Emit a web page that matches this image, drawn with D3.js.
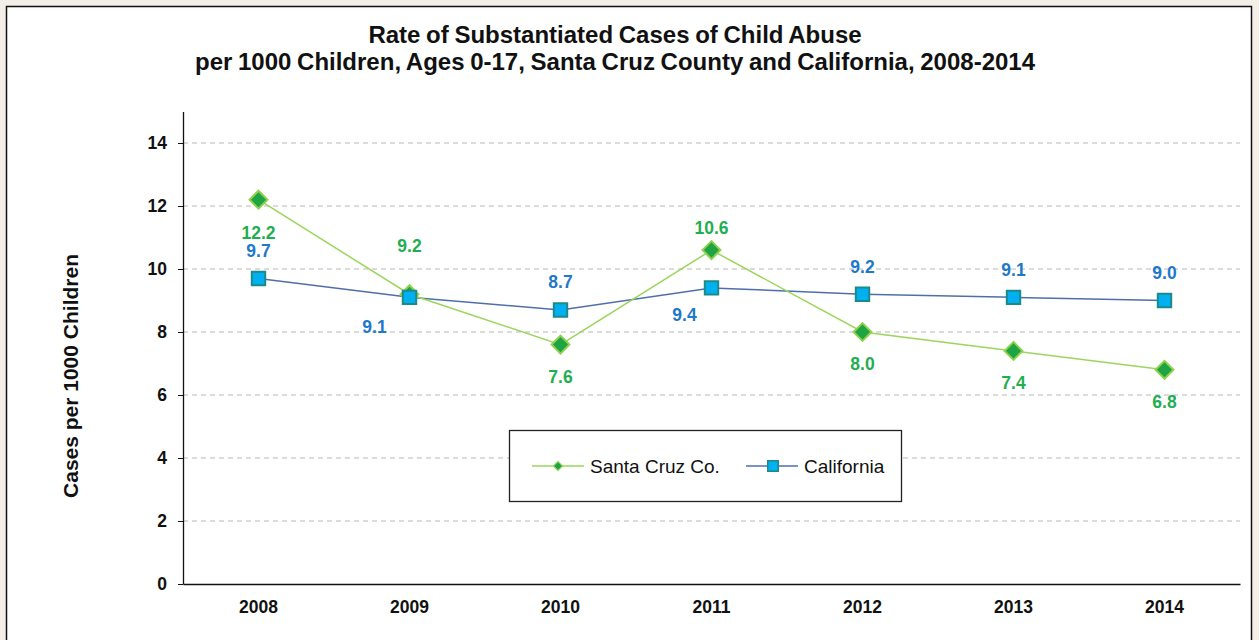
<!DOCTYPE html>
<html>
<head>
<meta charset="utf-8">
<script src="https://cdn.jsdelivr.net/npm/d3@7"></script>
<style>
  body { margin: 0; background: #f4eee9; }
  svg { display: block; font-family: "Liberation Sans", Arial, sans-serif; }
</style>
</head>
<body>
<div id="chart"></div>
<script>
// data
var years = ["2008", "2009", "2010", "2011", "2012", "2013", "2014"];
var santaCruz = [12.2, 9.2, 7.6, 10.6, 8.0, 7.4, 6.8];
var california = [9.7, 9.1, 8.7, 9.4, 9.2, 9.1, 9.0];
var yTicks = [0, 2, 4, 6, 8, 10, 12, 14];

// label offsets (dx, dy) of label centre relative to each point
var scLabelPos = [[0, 33], [0, -49], [0, 32], [0, -22], [0, 32], [0, 32], [0, 32]];
var caLabelPos = [[0, -28], [-35, 29], [0, -28], [-27, 27], [0, -28], [0, -28], [0, -28]];

var W = 1259, H = 640;
var margin = {left: 183, right: 19, top: 111.5, bottom: 56};

var svg = d3.select("#chart")
  .append("svg")
  .attr("width", W)
  .attr("height", H);

// white panel
svg.append("rect")
  .attr("x", 6.5)
  .attr("y", 6.5)
  .attr("width", 1245)
  .attr("height", 650)
  .style("fill", "white")
  .style("stroke", "#111")
  .style("stroke-width", 1.5);

var x = d3.scaleBand()
  .domain(years)
  .range([margin.left, W - margin.right]);

var y = d3.scaleLinear()
  .domain([0, 15])
  .range([H - margin.bottom, margin.top]);

// gridlines
svg.append("g")
  .selectAll("line")
  .data(yTicks.filter(d => d > 0))
  .enter().append("line")
  .attr("x1", margin.left)
  .attr("x2", W - margin.right)
  .attr("y1", d => y(d))
  .attr("y2", d => y(d))
  .style("stroke", "#b8b8b8")
  .style("stroke-width", 1)
  .style("stroke-dasharray", "5,4");

// y axis
var yAxis = svg.append("g")
  .attr("transform", "translate(" + margin.left + ",0)")
  .call(d3.axisLeft(y).tickValues(yTicks).tickSize(5).tickPadding(11).tickSizeOuter(0));
yAxis.select(".domain").style("stroke", "#111").style("stroke-width", 1.3);
yAxis.selectAll(".tick line").style("stroke", "#111");
yAxis.selectAll("text")
  .style("font-size", "17.5px")
  .style("font-weight", "bold")
  .style("fill", "#111");

// x axis
var xAxis = svg.append("g")
  .attr("transform", "translate(0," + y(0) + ")")
  .call(d3.axisBottom(x).tickSize(0).tickPadding(17).tickSizeOuter(0));
xAxis.select(".domain").style("stroke", "#111").style("stroke-width", 1.3);
xAxis.selectAll("text")
  .style("font-size", "17.5px")
  .style("font-weight", "bold")
  .style("fill", "#111");

// title
var title = svg.append("text")
  .attr("text-anchor", "middle")
  .style("font-size", "24px")
  .style("font-weight", "bold")
  .style("word-spacing", "-1px")
  .style("fill", "#111");
title.append("tspan").attr("x", 615).attr("y", 43).text("Rate of Substantiated Cases of Child Abuse");
title.append("tspan").attr("x", 615).attr("y", 70).text("per 1000 Children, Ages 0-17, Santa Cruz County and California, 2008-2014");

// y axis title
svg.append("text")
  .attr("transform", "translate(78," + 376 + ") rotate(-90)")
  .attr("text-anchor", "middle")
  .style("font-size", "21px")
  .style("font-weight", "bold")
  .style("fill", "#111")
  .text("Cases per 1000 Children");

var cx = (d, i) => x(years[i]) + x.bandwidth() / 2;

var line = d3.line()
  .x(cx)
  .y(d => y(d));

// series lines
svg.append("path")
  .datum(california)
  .attr("d", line)
  .style("fill", "none")
  .style("stroke", "#4f6fa8")
  .style("stroke-width", 1.5);

svg.append("path")
  .datum(santaCruz)
  .attr("d", line)
  .style("fill", "none")
  .style("stroke", "#9ad65a")
  .style("stroke-width", 1.5);

var diamond = d3.symbol().type(d3.symbolSquare).size(160);
var square = d3.symbol().type(d3.symbolSquare).size(180);

// santa cruz markers
svg.append("g")
  .selectAll("path")
  .data(santaCruz)
  .enter().append("path")
  .attr("d", diamond)
  .attr("transform", (d, i) => "translate(" + cx(d, i) + "," + y(d) + ") rotate(45)")
  .style("fill", "#1ea443")
  .style("stroke", "#8fd14f")
  .style("stroke-width", 2);

// california markers
svg.append("g")
  .selectAll("path")
  .data(california)
  .enter().append("path")
  .attr("d", square)
  .attr("transform", (d, i) => "translate(" + cx(d, i) + "," + y(d) + ")")
  .style("fill", "#00b0f0")
  .style("stroke", "#1d8a8a")
  .style("stroke-width", 2);

// data labels
svg.append("g")
  .selectAll("text")
  .data(santaCruz)
  .enter().append("text")
  .attr("x", (d, i) => cx(d, i) + scLabelPos[i][0])
  .attr("y", (d, i) => y(d) + scLabelPos[i][1])
  .attr("dy", "0.36em")
  .attr("text-anchor", "middle")
  .style("font-size", "17.5px")
  .style("font-weight", "bold")
  .style("fill", "#1fae50")
  .text(d => d.toFixed(1));

svg.append("g")
  .selectAll("text")
  .data(california)
  .enter().append("text")
  .attr("x", (d, i) => cx(d, i) + caLabelPos[i][0])
  .attr("y", (d, i) => y(d) + caLabelPos[i][1])
  .attr("dy", "0.36em")
  .attr("text-anchor", "middle")
  .style("font-size", "17.5px")
  .style("font-weight", "bold")
  .style("fill", "#1f78c8")
  .text(d => d.toFixed(1));

// legend
var legend = svg.append("g");
legend.append("rect")
  .attr("x", 509.5)
  .attr("y", 430.5)
  .attr("width", 392)
  .attr("height", 71)
  .style("fill", "white")
  .style("stroke", "#222")
  .style("stroke-width", 1.3);

legend.append("line")
  .attr("x1", 532).attr("x2", 584).attr("y1", 466).attr("y2", 466)
  .style("stroke", "#9ad65a").style("stroke-width", 1.5);
legend.append("path")
  .attr("d", d3.symbol().type(d3.symbolSquare).size(40))
  .attr("transform", "translate(558,466) rotate(45)")
  .style("fill", "#1ea443")
  .style("stroke", "#8fd14f")
  .style("stroke-width", 1);
legend.append("text")
  .attr("x", 590).attr("y", 466)
  .attr("dy", "0.36em")
  .style("font-size", "19px")
  .style("fill", "#111")
  .text("Santa Cruz Co.");

legend.append("line")
  .attr("x1", 746).attr("x2", 798).attr("y1", 466).attr("y2", 466)
  .style("stroke", "#4f6fa8").style("stroke-width", 1.5);
legend.append("path")
  .attr("d", d3.symbol().type(d3.symbolSquare).size(110))
  .attr("transform", "translate(773,466)")
  .style("fill", "#00b0f0")
  .style("stroke", "#1d8a8a")
  .style("stroke-width", 1.5);
legend.append("text")
  .attr("x", 804).attr("y", 466)
  .attr("dy", "0.36em")
  .style("font-size", "19px")
  .style("fill", "#111")
  .text("California");
</script>
</body>
</html>
